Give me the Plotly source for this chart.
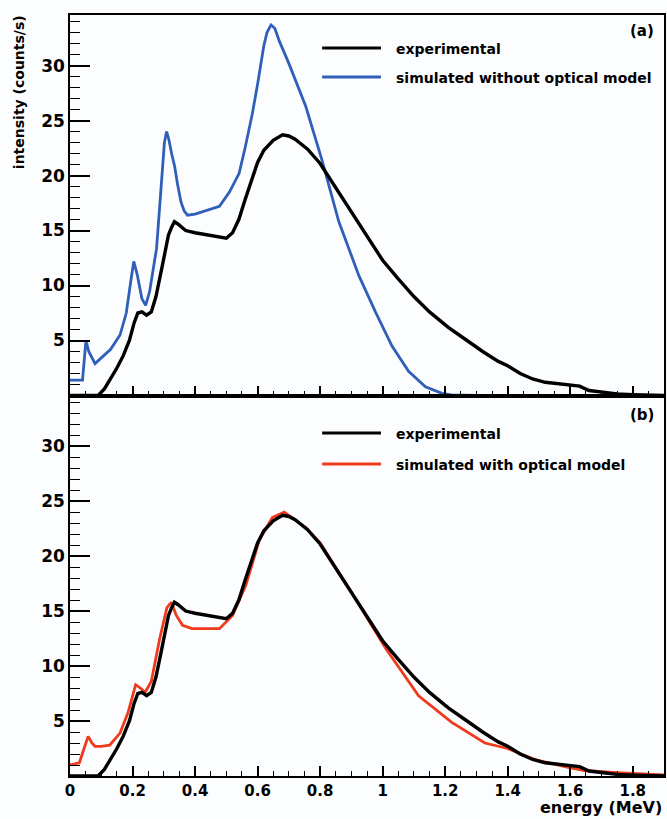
import plotly.graph_objects as go
from plotly.subplots import make_subplots

# ---------------- data ----------------
# experimental spectrum (same in both panels)
E_EXP = [0.0, 0.09, 0.11, 0.127, 0.15, 0.17, 0.19, 0.205, 0.217, 0.23, 0.245, 0.26, 0.275,
         0.296, 0.315, 0.325, 0.334, 0.345, 0.37, 0.40, 0.44, 0.48, 0.50, 0.52, 0.54,
         0.56, 0.58, 0.60, 0.62, 0.65, 0.68, 0.70, 0.72, 0.76, 0.80, 0.86, 0.90, 0.95,
         1.0, 1.05, 1.10, 1.15, 1.21, 1.27, 1.32, 1.37, 1.40, 1.44, 1.48, 1.52, 1.56,
         1.60, 1.63, 1.66, 1.70, 1.75, 1.80, 1.85, 1.9]
I_EXP = [0.0, 0.0, 0.6, 1.4, 2.5, 3.6, 5.0, 6.6, 7.5, 7.6, 7.3, 7.6, 9.0,
         11.9, 14.6, 15.3, 15.8, 15.6, 15.0, 14.8, 14.6, 14.4, 14.3, 14.8, 16.0,
         17.8, 19.6, 21.2, 22.3, 23.2, 23.7, 23.6, 23.3, 22.4, 21.1, 18.5, 16.7, 14.5,
         12.3, 10.6, 9.0, 7.6, 6.2, 5.0, 4.0, 3.1, 2.7, 2.0, 1.5, 1.2, 1.05,
         0.9, 0.85, 0.45, 0.3, 0.15, 0.08, 0.03, 0.0]

# simulated without optical model (panel a)
E_NOOPT = [0.0, 0.04, 0.051, 0.06, 0.08, 0.10, 0.13, 0.16, 0.18, 0.195, 0.204, 0.215,
           0.23, 0.242, 0.255, 0.277, 0.295, 0.302, 0.309, 0.316, 0.325, 0.335, 0.344,
           0.355, 0.365, 0.376, 0.40, 0.436, 0.478, 0.51, 0.541, 0.56, 0.583, 0.60,
           0.62, 0.63, 0.643, 0.655, 0.67, 0.70, 0.754, 0.806, 0.86, 0.924, 0.977,
           1.03, 1.083, 1.137, 1.19, 1.22, 1.3, 1.9]
I_NOOPT = [1.4, 1.4, 5.0, 4.0, 2.9, 3.4, 4.2, 5.5, 7.5, 10.5, 12.2, 11.0,
           8.8, 8.2, 9.5, 13.4, 20.0, 23.0, 24.0, 23.3, 22.0, 20.8, 19.2,
           17.6, 16.8, 16.4, 16.5, 16.8, 17.2, 18.5, 20.2, 22.5, 25.6, 28.3,
           31.8, 33.0, 33.7, 33.4, 32.2, 30.2, 26.3, 21.4, 15.8, 10.9, 7.6,
           4.5, 2.2, 0.8, 0.2, 0.05, 0.0, 0.0]

# simulated with optical model (panel b)
E_OPT = [0.0, 0.03, 0.045, 0.058, 0.07, 0.08, 0.10, 0.127, 0.16, 0.186, 0.21, 0.225,
         0.24, 0.26, 0.287, 0.31, 0.324, 0.34, 0.36, 0.39, 0.44, 0.478, 0.52, 0.563,
         0.605, 0.647, 0.685, 0.754, 0.80, 0.86, 0.90, 1.01, 1.115, 1.22, 1.327, 1.40,
         1.487, 1.59, 1.645, 1.75, 1.86, 1.9]
I_OPT = [1.0, 1.2, 2.5, 3.6, 3.0, 2.7, 2.7, 2.8, 3.9, 5.8, 8.3, 8.0,
         7.6, 8.6, 12.5, 15.3, 15.8, 14.6, 13.7, 13.4, 13.4, 13.4, 14.6, 17.4,
         21.4, 23.5, 24.0, 22.6, 21.2, 18.5, 16.7, 11.6, 7.3, 4.9, 3.0, 2.5,
         1.5, 0.8, 0.5, 0.3, 0.15, 0.1]

Y_TICKS = [5, 10, 15, 20, 25, 30]
NAME_EXP = "experimental"
NAME_NOOPT = "simulated without optical model"
NAME_OPT = "simulated with optical model"

# ---------------- styling ----------------
BLACK = "#000000"
BLUE = "#2f5fb8"
RED = "#f03a1c"
BG = "#fcfdfe"
FONT = "DejaVu Sans"

fig = make_subplots(rows=2, cols=1, shared_xaxes=True, vertical_spacing=0)

fig.add_trace(go.Scatter(x=E_NOOPT, y=I_NOOPT, mode="lines", name=NAME_NOOPT,
                         line=dict(color=BLUE, width=2.8), showlegend=False), row=1, col=1)
fig.add_trace(go.Scatter(x=E_EXP, y=I_EXP, mode="lines", name=NAME_EXP,
                         line=dict(color=BLACK, width=3.4), showlegend=False), row=1, col=1)
fig.add_trace(go.Scatter(x=E_OPT, y=I_OPT, mode="lines", name=NAME_OPT,
                         line=dict(color=RED, width=2.8), showlegend=False), row=2, col=1)
fig.add_trace(go.Scatter(x=E_EXP, y=I_EXP, mode="lines", name=NAME_EXP,
                         line=dict(color=BLACK, width=3.4), showlegend=False), row=2, col=1)

xax = dict(range=[0, 1.9], dtick=0.2, tick0=0, ticks="inside", ticklen=10, tickwidth=1.5,
           tickcolor=BLACK, showline=True, linecolor=BLACK, linewidth=1.5, mirror=True,
           showgrid=False, zeroline=False,
           minor=dict(dtick=0.05, tick0=0, ticks="inside", ticklen=5, tickwidth=1.2,
                      tickcolor=BLACK),
           tickfont=dict(family=FONT, size=15, color=BLACK, weight="bold"))
yax = dict(range=[0, 34.6], tickmode="array", tickvals=Y_TICKS, ticks="inside",
           ticklen=20, tickwidth=1.5, tickcolor=BLACK, showline=True, linecolor=BLACK,
           linewidth=1.5, mirror=True, showgrid=False, zeroline=False,
           minor=dict(dtick=1, tick0=0, ticks="inside", ticklen=10, tickwidth=1.2,
                      tickcolor=BLACK),
           tickfont=dict(family=FONT, size=17, color=BLACK, weight="bold"))

fig.update_xaxes(**xax)
fig.update_yaxes(**yax)

W, H = 667, 819
ML, MR, MT, MB = 70, 1, 15, 43
PW, PH = W - ML - MR, H - MT - MB


def px(xp):
    return (xp - ML) / PW


def py(yp):
    return (H - MB - yp) / PH


anns = []
shapes = []
tfont = dict(family=FONT, size=14, color=BLACK, weight="bold")

# legends
legend_rows = [(48, BLACK, NAME_EXP), (77, BLUE, NAME_NOOPT),
               (433, BLACK, NAME_EXP), (464, RED, NAME_OPT)]
for ypix, col, txt in legend_rows:
    shapes.append(dict(type="line", xref="paper", yref="paper", x0=px(323), x1=px(382),
                       y0=py(ypix), y1=py(ypix), line=dict(color=col, width=3)))
    anns.append(dict(xref="paper", yref="paper", x=px(395), y=py(ypix + 1), text=txt,
                     showarrow=False, xanchor="left", yanchor="middle", font=tfont))

# panel labels
for ypix, txt in [(31, "(a)"), (415, "(b)")]:
    anns.append(dict(xref="paper", yref="paper", x=px(658), y=py(ypix), text=txt,
                     showarrow=False, xanchor="right", yanchor="middle",
                     font=dict(family=FONT, size=15, color=BLACK, weight="bold")))

# axis titles (ROOT style: at the end of the axis)
anns.append(dict(xref="paper", yref="paper", x=px(19), y=py(13), text="intensity (counts/s)",
                 textangle=-90, showarrow=False, xanchor="center", yanchor="top",
                 font=tfont))
anns.append(dict(xref="paper", yref="paper", x=px(666), y=py(808), text="energy (MeV)",
                 showarrow=False, xanchor="right", yanchor="middle",
                 font=dict(family=FONT, size=16, color=BLACK, weight="bold")))

fig.update_layout(width=W, height=H, margin=dict(l=ML, r=MR, t=MT, b=MB, pad=0),
                  paper_bgcolor=BG, plot_bgcolor=BG, showlegend=False,
                  annotations=anns, shapes=shapes)

fig.write_html("out.html",
               config={"displayModeBar": False},
               post_script="document.body.style.margin='0';"
                           "document.documentElement.style.overflow='hidden';")
